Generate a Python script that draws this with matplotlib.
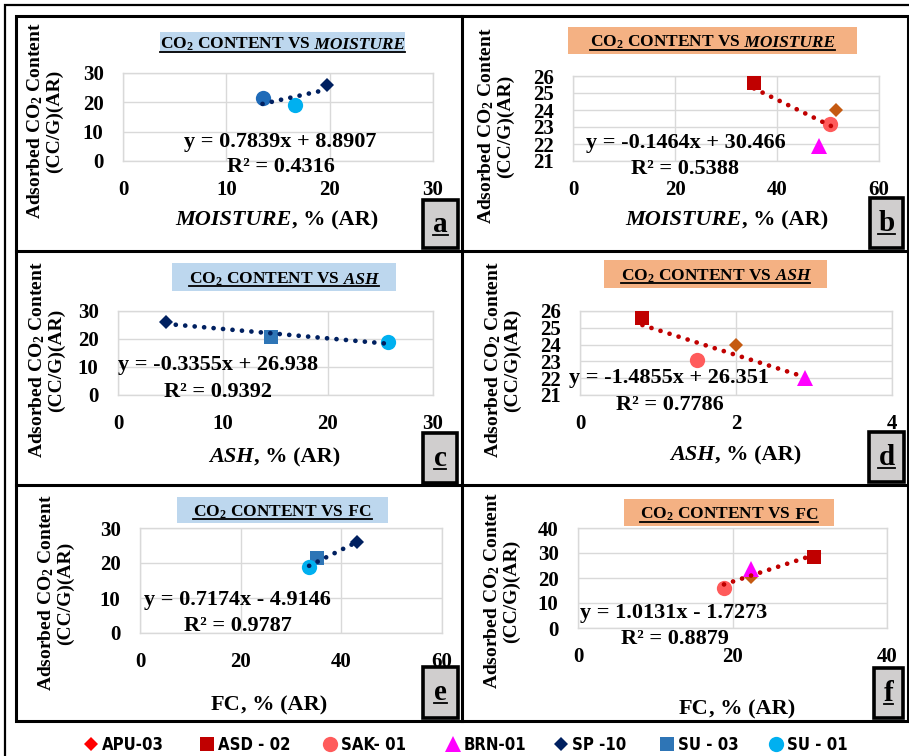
import matplotlib
matplotlib.use("Agg")
import matplotlib.pyplot as plt
from matplotlib.patches import Rectangle
import numpy as np

W, H = 909, 756
SERIF = ['Liberation Serif', 'DejaVu Serif']
plt.rcParams['font.family'] = SERIF
plt.rcParams['font.weight'] = 'bold'
plt.rcParams['mathtext.default'] = 'regular'

# ---- samples -------------------------------------------------------------
left_samples = ['SP-10', 'SU-03', 'SU-01']
right_samples = ['APU-03', 'ASD-02', 'SAK-01', 'BRN-01']

# panel a: CO2 vs moisture (coal group 1)
a_moisture = [19.7, 13.5, 16.6]
a_co2 = [26.0, 21.4, 19.1]
# panel b: CO2 vs moisture (coal group 2)
b_moisture = [51.6, 35.5, 50.4, 48.2]
b_co2 = [24.0, 25.6, 23.2, 21.9]
# panel c: CO2 vs ash (group 1)
c_ash = [4.6, 14.6, 25.7]
c_co2 = [26.1, 20.7, 18.8]
# panel d: CO2 vs ash (group 2)
d_ash = [2.0, 0.8, 1.5, 2.88]
d_co2 = [24.0, 25.6, 23.1, 22.0]
# panel e: CO2 vs fixed carbon (group 1)
e_fc = [43.2, 35.1, 33.6]
e_co2 = [25.9, 21.3, 18.8]
# panel f: CO2 vs fixed carbon (group 2)
f_fc = [22.4, 30.6, 18.9, 22.4]
f_co2 = [20.5, 28.5, 15.9, 23.5]

# linear trendlines: slope, intercept, R^2
trend_a = (0.7839, 8.8907, 0.4316)
trend_b = (-0.1464, 30.466, 0.5388)
trend_c = (-0.3355, 26.938, 0.9392)
trend_d = (-1.4855, 26.351, 0.7786)
trend_e = (0.7174, -4.9146, 0.9787)
trend_f = (1.0131, -1.7273, 0.8879)

# axis ticks (first/last tick = axis limits)
a_xticks, a_yticks = [0, 10, 20, 30], [0, 10, 20, 30]
b_xticks, b_yticks = [0, 20, 40, 60], [21, 22, 23, 24, 25, 26]
c_xticks, c_yticks = [0, 10, 20, 30], [0, 10, 20, 30]
d_xticks, d_yticks = [0, 2, 4], [21, 22, 23, 24, 25, 26]
e_xticks, e_yticks = [0, 20, 40, 60], [0, 10, 20, 30]
f_xticks, f_yticks = [0, 20, 40], [0, 10, 20, 30, 40]

style = {
    'SP-10': dict(marker='D', color='#002060', ms=7.5),
    'SU-03': dict(marker='s', color='#2E75B6', ms=10),
    'SU-01': dict(marker='o', color='#00B0F0', ms=11),
    'APU-03': dict(marker='D', color='#C55A11', ms=7.5),
    'ASD-02': dict(marker='s', color='#C00000', ms=10.5),
    'SAK-01': dict(marker='o', color='#FF5B5B', ms=11),
    'BRN-01': dict(marker='^', color='#FF00FF', ms=11),
}

fig = plt.figure(figsize=(W / 100, H / 100), dpi=100)
fig.patch.set_facecolor('white')

# overlay axes in pixel coordinates for frames, boxes and text
ov = fig.add_axes([0, 0, 1, 1], zorder=5)
ov.set_xlim(0, W)
ov.set_ylim(H, 0)
ov.axis('off')
ov.patch.set_alpha(0)


def add_panel(x0, x1, y0, y1, xs, ys, samples, trend, xticks, yticks,
              trend_color, overrides=None):
    ax = fig.add_axes([x0 / W, 1 - y1 / H, (x1 - x0) / W, (y1 - y0) / H])
    ax.set_xlim(xticks[0], xticks[-1])
    ax.set_ylim(yticks[0], yticks[-1])
    ax.set_xticks(xticks)
    ax.set_yticks(yticks)
    ax.grid(True, color='#D9D9D9', lw=1)
    ax.set_axisbelow(True)
    for s in ax.spines.values():
        s.set_color('#D9D9D9')
        s.set_linewidth(1)
    ax.tick_params(length=0, pad=14, labelsize=15)
    for lab in ax.get_xticklabels() + ax.get_yticklabels():
        lab.set_fontweight('bold')
    for i, name in enumerate(samples):
        st = dict(style[name])
        if overrides and name in overrides:
            st.update(overrides[name])
        ax.plot(xs[i], ys[i], linestyle='none', marker=st['marker'],
                color=st['color'], markersize=st['ms'], markeredgewidth=0,
                zorder=3, clip_on=False)
    m, c, _ = trend
    tx = np.array([min(xs), max(xs)])
    ax.plot(tx, m * tx + c, color=trend_color, lw=3.4,
            linestyle=(0, (0.01, 2.0)), dash_capstyle='round', zorder=4,
            clip_on=False)
    return ax


NAVY = '#002060'
DRED = '#C00000'
add_panel(123, 433, 73, 161, a_moisture, a_co2, left_samples, trend_a,
          a_xticks, a_yticks, NAVY,
          overrides={'SU-03': dict(marker='o', color='#1F6BB8', ms=11)})
add_panel(573, 879, 76, 161, b_moisture, b_co2, right_samples, trend_b,
          b_xticks, b_yticks, DRED)
add_panel(118, 433, 311, 395, c_ash, c_co2, left_samples, trend_c,
          c_xticks, c_yticks, NAVY)
add_panel(580, 892, 311, 395, d_ash, d_co2, right_samples, trend_d,
          d_xticks, d_yticks, DRED)
add_panel(140, 442, 528, 633, e_fc, e_co2, left_samples, trend_e,
          e_xticks, e_yticks, NAVY)
add_panel(578, 887, 528, 628, f_fc, f_co2, right_samples, trend_f,
          f_xticks, f_yticks, DRED)

renderer = fig.canvas.get_renderer()


def rich(x, y, segs, size, underline=False, family=SERIF):
    """Draw text segments (text, italic) side by side, centred at x, baseline y."""
    objs = []
    for s, it in segs:
        t = ov.text(0, y, s, fontsize=size, fontweight='bold',
                    fontstyle='italic' if it else 'normal', family=family,
                    ha='left', va='baseline', color='black', zorder=6)
        objs.append(t)
    widths = [t.get_window_extent(renderer).width for t in objs]
    total = sum(widths)
    cur = x - total / 2
    for t, w in zip(objs, widths):
        t.set_x(cur)
        cur += w
    if underline:
        ov.plot([x - total / 2, x + total / 2], [y + 2.5, y + 2.5],
                color='black', lw=1.3, zorder=6)


BLUE_BG = '#BDD7EE'
ORANGE_BG = '#F4B183'

panels = [
    dict(tb=(160, 405, 32, 53), bg=BLUE_BG, var='MOISTURE', xl=(277, 225),
         yl=(44, 121), eq=(280, 147), r2=(281, 172), trend=trend_a,
         lb=(423, 458, 200, 248), letter='a', italic=True),
    dict(tb=(568, 857, 27, 54), bg=ORANGE_BG, var='MOISTURE', xl=(727, 225),
         yl=(495, 126), eq=(686, 148), r2=(685, 174), trend=trend_b,
         lb=(870, 903, 198, 248), letter='b', italic=True),
    dict(tb=(172, 396, 263, 291), bg=BLUE_BG, var='ASH', xl=(275, 462),
         yl=(46, 360), eq=(218, 370), r2=(218, 397), trend=trend_c,
         lb=(423, 457, 433, 483), letter='c', italic=True),
    dict(tb=(604, 827, 260, 288), bg=ORANGE_BG, var='ASH', xl=(736, 460),
         yl=(502, 360), eq=(669, 383), r2=(670, 410), trend=trend_d,
         lb=(869, 904, 432, 482), letter='d', italic=True),
    dict(tb=(177, 388, 497, 523), bg=BLUE_BG, var='FC', xl=(269, 710),
         yl=(55, 593), eq=(237, 605), r2=(238, 631), trend=trend_e,
         lb=(423, 458, 667, 718), letter='e', italic=False),
    dict(tb=(624, 834, 499, 526), bg=ORANGE_BG, var='FC', xl=(737, 714),
         yl=(501, 591), eq=(674, 618), r2=(675, 644), trend=trend_f,
         lb=(874, 903, 668, 718), letter='f', italic=False),
]

for p in panels:
    x0, x1, y0, y1 = p['tb']
    ov.add_patch(Rectangle((x0, y0), x1 - x0, y1 - y0, facecolor=p['bg'],
                           edgecolor='none', zorder=5))
    cy = (y0 + y1) / 2 + 6.5
    rich((x0 + x1) / 2, cy,
         [('CO$_2$ CONTENT VS', False), (' ' + p['var'], p['italic'])],
         12.5, underline=True)
    # x axis label
    rich(p['xl'][0], p['xl'][1],
         [(p['var'], p['italic']), (', % (AR)', False)], 16)
    # y axis label
    ov.text(p['yl'][0], p['yl'][1], 'Adsorbed CO$_2$ Content\n(CC/G)(AR)',
            rotation=90, ha='center', va='center', multialignment='center',
            fontsize=14, fontweight='bold', linespacing=1.1, zorder=6)
    # trendline equation
    m, c, r2 = p['trend']
    sign = '+' if c >= 0 else '-'
    rich(p['eq'][0], p['eq'][1],
         [(f'y = {m:.4f}x {sign} {abs(c):g}', False)], 16)
    rich(p['r2'][0], p['r2'][1], [(f'R² = {r2:.4f}', False)], 16)
    # panel letter box
    bx0, bx1, by0, by1 = p['lb']
    ov.add_patch(Rectangle((bx0, by0), bx1 - bx0, by1 - by0,
                           facecolor='#D0CECE', edgecolor='black', lw=2.6,
                           zorder=5))
    rich((bx0 + bx1) / 2, (by0 + by1) / 2 + 8, [(p['letter'], False)], 21,
         underline=True)

# frames
ov.plot([4.5, 4.5, W], [H, 4.5, 4.5], color='black', lw=1.6, zorder=5,
        solid_joinstyle='miter')
ov.add_patch(Rectangle((15.5, 16), 908 - 15.5, 721 - 16, facecolor='none',
                       edgecolor='black', lw=2.2, zorder=5))
ov.plot([462, 462], [16, 721], color='black', lw=2.2, zorder=5)
ov.plot([15.5, 908], [251, 251], color='black', lw=2.2, zorder=5)
ov.plot([15.5, 908], [485, 485], color='black', lw=2.2, zorder=5)

# legend row
legend_names = ['APU-03', 'ASD-02', 'SAK-01', 'BRN-01', 'SP-10', 'SU-03', 'SU-01']
legend_labels = ['APU-03', 'ASD - 02', 'SAK- 01', 'BRN-01', 'SP -10',
                 'SU - 03', 'SU - 01']
legend_x = [91, 207, 330, 453, 561, 667, 776]
legend_colors = {'APU-03': '#FF0000'}
for name, lab, lx in zip(legend_names, legend_labels, legend_x):
    st = style[name]
    col = legend_colors.get(name, st['color'])
    ov.plot(lx, 744, linestyle='none', marker=st['marker'], color=col,
            markersize=st['ms'], markeredgewidth=0, zorder=6)
    ov.text(lx + 11, 745, lab, fontsize=12, fontweight='bold',
            family=['Liberation Sans Narrow', 'DejaVu Sans'],
            fontstretch='condensed', ha='left', va='center', zorder=6)

fig.savefig('out.png', dpi=100, facecolor='white')
